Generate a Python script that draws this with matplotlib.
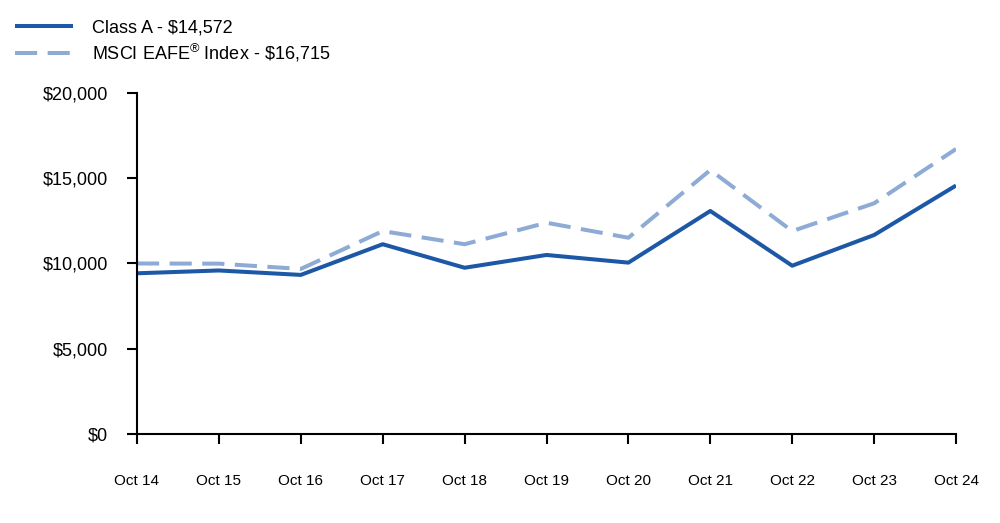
import matplotlib.pyplot as plt
from matplotlib.ticker import FuncFormatter

plt.rcParams['font.family'] = ['Liberation Sans', 'DejaVu Sans']
plt.rcParams['mathtext.fontset'] = 'custom'
plt.rcParams['mathtext.rm'] = 'Liberation Sans'

years = ['Oct 14', 'Oct 15', 'Oct 16', 'Oct 17', 'Oct 18', 'Oct 19',
         'Oct 20', 'Oct 21', 'Oct 22', 'Oct 23', 'Oct 24']
class_a = [9425, 9590, 9330, 11130, 9750, 10500, 10050, 13080, 9870, 11670, 14572]
msci_eafe = [10000, 9990, 9680, 11900, 11130, 12390, 11510, 15480, 11900, 13530, 16715]

labels = ['Class A - \\$14,572', 'MSCI EAFE$^{\\mathrm{®}}$ Index - \\$16,715']
dark_blue = '#1c58a6'
light_blue = '#8eabd6'

fig = plt.figure(figsize=(10, 5.23), dpi=100)
ax = fig.add_axes([0.137, 0.1702, 0.819, 0.652])

x = range(len(years))
l1, = ax.plot(x, class_a, color=dark_blue, lw=2.9, solid_capstyle='butt')
l2, = ax.plot(x, msci_eafe, color=light_blue, lw=2.9, dashes=(5.5, 2.6))

ax.set_xlim(0, len(years) - 1)
ax.set_ylim(0, 20000)
ax.set_xticks(list(x))
ax.set_xticklabels(years)
ax.set_yticks([0, 5000, 10000, 15000, 20000])
ax.yaxis.set_major_formatter(FuncFormatter(lambda v, p: f'${v:,.0f}'))

for s in ['top', 'right']:
    ax.spines[s].set_visible(False)
for s in ['left', 'bottom']:
    ax.spines[s].set_linewidth(1.5)
ax.tick_params(axis='x', direction='out', length=7, width=1.5, labelsize=11, pad=22)
ax.tick_params(axis='y', direction='out', length=7, width=1.5, labelsize=13, pad=14)

fig.legend([l1, l2], labels, loc='upper left', bbox_to_anchor=(-0.003, 0.998),
           frameon=False, fontsize=13, handlelength=3.2, handletextpad=1.05,
           labelspacing=0.3, borderaxespad=0.6)

fig.savefig('out.png', dpi=100)
